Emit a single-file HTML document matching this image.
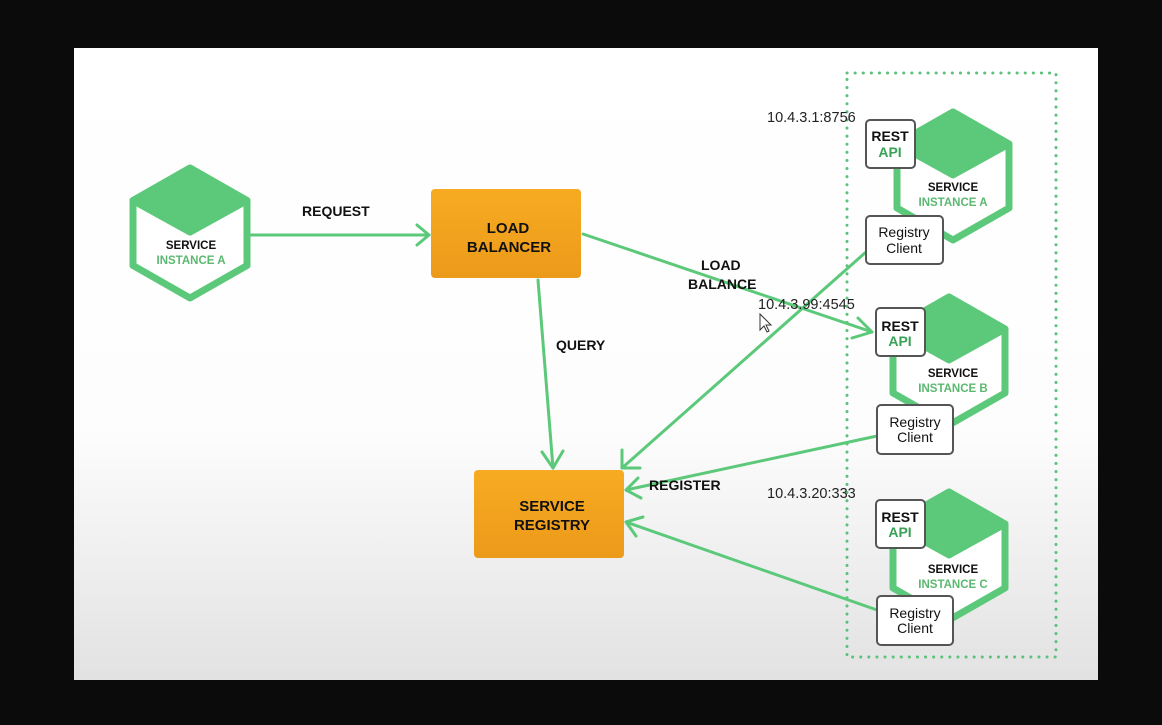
<!DOCTYPE html>
<html><head><style>
body{margin:0;background:#0b0b0b;width:1162px;height:725px;overflow:hidden}
svg{display:block}
text{font-family:"Liberation Sans",sans-serif}
.b{font-weight:bold}
</style></head><body>
<svg width="1162" height="725" viewBox="0 0 1162 725">
<defs>
<linearGradient id="bg" x1="0" y1="0" x2="0" y2="1">
<stop offset="0" stop-color="#fff"/><stop offset="0.6" stop-color="#fdfdfd"/><stop offset="1" stop-color="#e2e2e2"/>
</linearGradient>
<linearGradient id="og" x1="0" y1="0" x2="0" y2="1">
<stop offset="0" stop-color="#f7ab22"/><stop offset="1" stop-color="#ec9a1a"/>
</linearGradient>
</defs>
<rect x="74" y="48" width="1024" height="632" fill="url(#bg)"/>
<rect x="847" y="73" width="209" height="584" fill="none" stroke="#5cc27a" stroke-width="3" stroke-dasharray="0.1 8" stroke-linecap="round"/>

<g stroke="#5cc97a" stroke-width="3" fill="none" stroke-linecap="round" stroke-linejoin="round">
<line x1="250" y1="235" x2="429" y2="235"/><polyline points="417,225 429,235 417,245"/>
<line x1="583" y1="234" x2="872" y2="332"/><polyline points="858,318 872,332 852,338"/>
<line x1="538" y1="280" x2="553" y2="468"/><polyline points="542,452 553,468 563,451"/>
<line x1="866" y1="252" x2="622" y2="468"/><polyline points="622,450 622,468 640,468"/>
<line x1="877" y1="436" x2="626" y2="490"/><polyline points="638,478 626,490 641,498"/>
<line x1="877" y1="610" x2="626" y2="522"/><polyline points="643,517 626,522 636,536"/>
</g>

<g id="hexes" stroke="#5cc97a" stroke-width="7" stroke-linejoin="round">
<polygon points="190,168 247,200.5 247,265.5 190,298 133,265.5 133,200.5" fill="#fff"/>
<polygon points="190,168 247,200.5 190,232 133,200.5" fill="#5cc97a"/>
<polygon points="953,112 1009,144 1009,208 953,240 897,208 897,144" fill="#fff"/>
<polygon points="953,112 1009,144 953,175 897,144" fill="#5cc97a"/>
<polygon points="949,297 1005,329 1005,393 949,425 893,393 893,329" fill="#fff"/>
<polygon points="949,297 1005,329 949,360 893,329" fill="#5cc97a"/>
<polygon points="949,492 1005,524 1005,588 949,620 893,588 893,524" fill="#fff"/>
<polygon points="949,492 1005,524 949,555 893,524" fill="#5cc97a"/>
</g>

<rect x="431" y="189" width="150" height="89" rx="4" fill="url(#og)"/>
<rect x="474" y="470" width="150" height="88" rx="4" fill="url(#og)"/>
<text class="b" x="508" y="233" font-size="15" text-anchor="middle" fill="#111">LOAD</text>
<text class="b" x="509" y="252" font-size="15" text-anchor="middle" fill="#111">BALANCER</text>
<text class="b" x="552" y="511" font-size="15" text-anchor="middle" fill="#111">SERVICE</text>
<text class="b" x="552" y="530" font-size="15" text-anchor="middle" fill="#111">REGISTRY</text>

<text class="b" x="191" y="249" font-size="11.5" text-anchor="middle" fill="#111">SERVICE</text>
<text class="b" x="191" y="264" font-size="11.5" text-anchor="middle" fill="#5cb870">INSTANCE A</text>
<text class="b" x="953" y="191" font-size="11.5" text-anchor="middle" fill="#111">SERVICE</text>
<text class="b" x="953" y="206" font-size="11.5" text-anchor="middle" fill="#5cb870">INSTANCE A</text>
<text class="b" x="953" y="377" font-size="11.5" text-anchor="middle" fill="#111">SERVICE</text>
<text class="b" x="953" y="392" font-size="11.5" text-anchor="middle" fill="#5cb870">INSTANCE B</text>
<text class="b" x="953" y="573" font-size="11.5" text-anchor="middle" fill="#111">SERVICE</text>
<text class="b" x="953" y="588" font-size="11.5" text-anchor="middle" fill="#5cb870">INSTANCE C</text>

<g fill="#fff" stroke="#555" stroke-width="2">
<rect x="866" y="120" width="49" height="48" rx="4"/>
<rect x="866" y="216" width="77" height="48" rx="4"/>
<rect x="876" y="308" width="49" height="48" rx="4"/>
<rect x="877" y="405" width="76" height="49" rx="4"/>
<rect x="876" y="500" width="49" height="48" rx="4"/>
<rect x="877" y="596" width="76" height="49" rx="4"/>
</g>
<g font-size="14" text-anchor="middle">
<text class="b" x="890" y="141" fill="#111">REST</text><text class="b" x="890" y="157" fill="#3aa055">API</text>
<text x="904" y="237" fill="#111">Registry</text><text x="904" y="253" fill="#111">Client</text>
<text class="b" x="900" y="331" fill="#111">REST</text><text class="b" x="900" y="346" fill="#3aa055">API</text>
<text x="915" y="427" fill="#111">Registry</text><text x="915" y="442" fill="#111">Client</text>
<text class="b" x="900" y="522" fill="#111">REST</text><text class="b" x="900" y="537" fill="#3aa055">API</text>
<text x="915" y="618" fill="#111">Registry</text><text x="915" y="633" fill="#111">Client</text>
</g>

<g class="b" font-size="14" fill="#111">
<text class="b" x="302" y="216">REQUEST</text>
<text class="b" x="556" y="350">QUERY</text>
<text class="b" x="701" y="270">LOAD</text>
<text class="b" x="688" y="289">BALANCE</text>
<text class="b" x="649" y="490">REGISTER</text>
</g>
<g font-size="14.5" fill="#222">
<text x="767" y="122">10.4.3.1:8756</text>
<text x="758" y="309">10.4.3.99:4545</text>
<text x="767" y="498">10.4.3.20:333</text>
</g>
<path d="M760,314 L760,330 L764,326 L767,332 L769,331 L766,325 L771,325 Z" fill="#fff" stroke="#333" stroke-width="1"/>
</svg>
</body></html>
